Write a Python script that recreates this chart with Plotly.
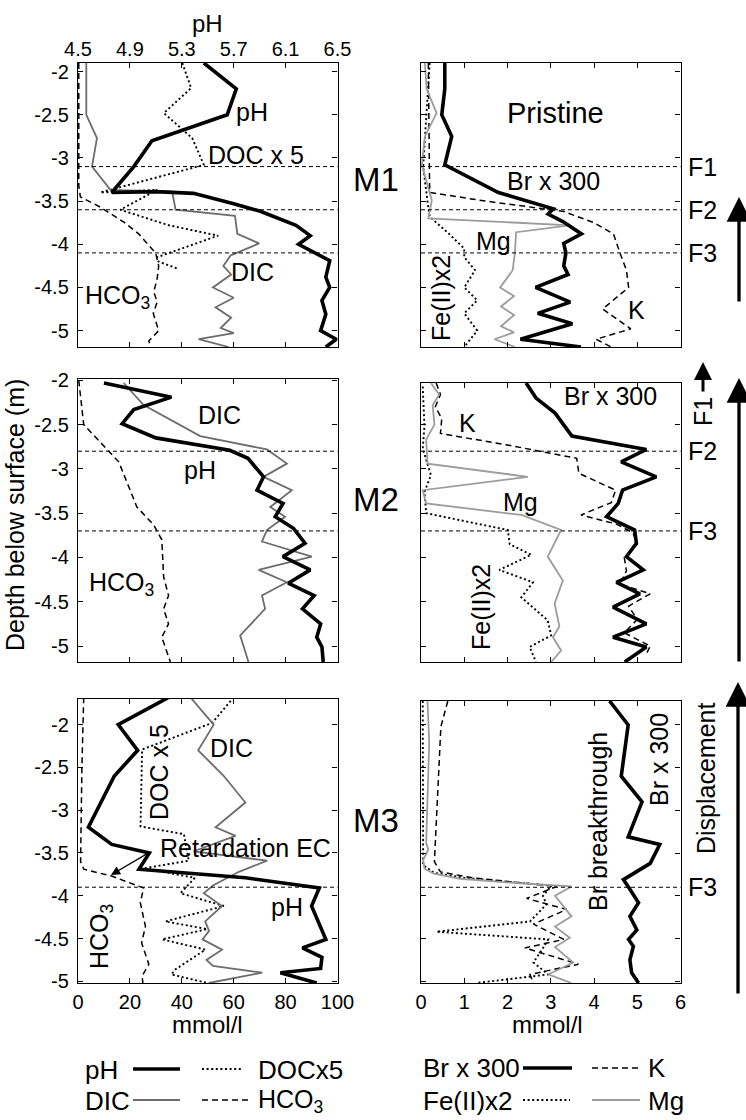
import plotly.graph_objects as go

W, H = 746, 1120
FONT = "Liberation Sans, Arial, Helvetica, sans-serif"

# ---------------- DATA ----------------
DEPTH_TICKS = [-2, -2.5, -3, -3.5, -4, -4.5, -5]
DEPTH_TICKTEXT = ["-2", "-2.5", "-3", "-3.5", "-4", "-4.5", "-5"]
MMOL_LEFT_TICKS = [0, 20, 40, 60, 80, 100]
MMOL_RIGHT_TICKS = [0, 1, 2, 3, 4, 5, 6]
PH_TICKS = [4.5, 4.9, 5.3, 5.7, 6.1, 6.5]

# M1 left
m1_ph_d = [-1.9, -2.2, -2.5, -2.8, -3.1, -3.4, -3.39, -3.41, -3.53, -3.62, -3.78, -3.9, -4.0, -4.19, -4.38, -4.5, -4.65, -4.81, -5.0, -5.1, -5.19]
m1_ph = [5.47, 5.72, 5.65, 5.07, 4.93, 4.76, 5.1, 5.39, 5.7, 5.91, 6.18, 6.29, 6.2, 6.44, 6.41, 6.44, 6.38, 6.41, 6.37, 6.49, 6.41]
m1_dic_d = [-1.9, -2.5, -2.77, -3.1, -3.37, -3.39, -3.6, -3.67, -3.88, -3.99, -4.13, -4.25, -4.35, -4.5, -4.62, -4.73, -4.85, -4.97, -5.03, -5.1, -5.19]
m1_dic = [3.2, 3.2, 7.3, 5.4, 12.5, 36.3, 37.6, 60.5, 61.4, 69.8, 58.8, 56, 59, 52, 60, 53, 59, 55, 60, 46.5, 58]
m1_hco3_d = [-1.9, -3.32, -3.45, -3.57, -3.75, -3.88, -4.1, -4.25, -4.4, -4.55, -4.67, -4.8, -5.0, -5.12, -5.19]
m1_hco3 = [0.3, 0.3, 0.9, 8.6, 18, 23.4, 29.9, 31.1, 30.5, 29.2, 30.5, 29, 31.1, 27.3, 28]
m1_doc_d = [-1.9, -2.19, -2.48, -2.77, -3.08, -3.4, -3.37, -3.6, -3.78, -3.9, -4.15, -4.2, -4.28]
m1_doc = [40.2, 43.6, 33.1, 44, 48.5, 8.6, 30.5, 16.3, 35, 54, 30.5, 31, 38.2]
# M1 right
m1_br_d = [-1.9, -2.2, -2.5, -2.75, -3.08, -3.4, -3.59, -3.65, -3.74, -3.88, -3.99, -4.1, -4.25, -4.35, -4.5, -4.67, -4.8, -4.92, -5.1, -5.19]
m1_br = [0.55, 0.55, 0.48, 0.71, 0.55, 1.79, 3.06, 2.94, 3.29, 3.71, 3.3, 3.35, 3.3, 3.4, 2.65, 3.45, 2.7, 3.5, 2.3, 3.7]
m1_mg_d = [-1.9, -2.2, -2.48, -2.75, -3.08, -3.49, -3.7, -3.78, -3.86, -4.1, -4.3, -4.5, -4.6, -4.72, -4.82, -4.95, -5.02, -5.1, -5.19]
m1_mg = [0.09, 0.13, 0.36, 0.09, 0.02, 0.25, 0.17, 3.44, 2.2, 2.17, 2.12, 1.83, 2.15, 1.85, 2.15, 1.85, 2.15, 1.7, 2.17]
m1_k_d = [-1.9, -3.4, -3.5, -3.62, -3.75, -3.88, -4.1, -4.3, -4.5, -4.75, -4.98, -5.1, -5.19]
m1_k = [0.17, 0.2, 1.5, 3.3, 4.0, 4.45, 4.6, 4.75, 4.8, 4.2, 4.85, 4.05, 4.4]
m1_fe_d = [-1.9, -2.75, -3.1, -3.5, -3.68, -3.88, -4.05, -4.15, -4.3, -4.5, -4.65, -4.8, -5.0, -5.19]
m1_fe = [0.2, 0.1, 0.05, 0.15, 0.2, 0.65, 1.0, 1.0, 1.25, 1.0, 1.3, 1.0, 1.3, 1.0]

# M2 left
m2_ph_d = [-2.03, -2.19, -2.33, -2.49, -2.65, -2.79, -2.88, -3.09, -3.24, -3.39, -3.54, -3.67, -3.84, -3.99, -4.14, -4.29, -4.43, -4.58, -4.75, -4.9, -5.01, -5.18]
m2_ph = [4.70, 5.22, 4.93, 4.84, 5.10, 5.67, 5.81, 5.93, 5.88, 6.08, 6.02, 6.16, 6.25, 6.08, 6.29, 6.12, 6.32, 6.23, 6.37, 6.34, 6.38, 6.39]
m2_dic_d = [-2.03, -2.28, -2.63, -2.78, -2.94, -3.09, -3.24, -3.43, -3.54, -3.69, -3.82, -3.99, -4.14, -4.28, -4.43, -4.58, -4.88, -5.18]
m2_dic = [17.6, 25.3, 47.1, 72.8, 80.5, 71.5, 82.4, 74.1, 79.8, 72.8, 70.9, 90.1, 69.6, 80.5, 70.9, 72.1, 62.5, 65.7]
m2_hco3_d = [-2.0, -2.5, -2.92, -3.43, -3.63, -3.8, -4.22, -4.43, -4.58, -4.75, -4.9, -5.18]
m2_hco3 = [0.3, 2.2, 15.7, 22.7, 29.1, 32.3, 33.0, 34.9, 33, 34.9, 32.3, 35.6]
# M2 right
m2_br_d = [-2.03, -2.2, -2.37, -2.63, -2.78, -2.92, -3.09, -3.24, -3.39, -3.54, -3.69, -3.84, -3.99, -4.14, -4.28, -4.41, -4.56, -4.75, -4.9, -5.01, -5.18]
m2_br = [2.43, 2.66, 3.1, 3.49, 5.21, 4.63, 5.44, 4.66, 4.56, 4.29, 4.94, 4.98, 4.75, 5.14, 4.52, 5.06, 4.44, 5.21, 4.44, 5.21, 4.71]
m2_k_d = [-2.03, -2.16, -2.3, -2.43, -2.6, -2.73, -2.88, -3.05, -3.24, -3.38, -3.52, -3.62, -3.72, -3.85, -4.0, -4.15, -4.3, -4.41, -4.55, -4.7, -4.85, -5.0, -5.1]
m2_k = [0.35, 0.45, 0.33, 0.48, 0.45, 2.0, 3.6, 3.65, 4.5, 4.4, 3.7, 4.5, 4.9, 5.0, 4.7, 4.75, 4.6, 5.3, 4.8, 5.0, 4.7, 5.3, 5.2]
m2_mg_d = [-2.03, -2.16, -2.28, -2.5, -2.67, -2.94, -3.09, -3.24, -3.39, -3.52, -3.69, -3.99, -4.26, -4.52, -4.78, -4.9, -5.05, -5.18]
m2_mg = [0.23, 0.42, 0.27, 0.31, 0.12, 0.15, 2.47, 0.04, 0.12, 2.32, 3.24, 2.93, 3.28, 3.09, 3.2, 3.05, 3.24, 3.01]
m2_fe_d = [-2.07, -2.52, -2.77, -3.07, -3.26, -3.5, -3.69, -3.85, -3.97, -4.14, -4.28, -4.45, -4.71, -4.88, -5.01, -5.18]
m2_fe = [0.04, 0.08, 0.04, 0.23, 0.08, 0.12, 2.01, 2.05, 2.55, 1.81, 2.59, 2.32, 2.93, 3.01, 2.51, 2.66]

# M3 left
m3_ph_d = [-1.68, -2.0, -2.3, -2.6, -3.2, -3.4, -3.5, -3.69, -3.79, -3.91, -4.12, -4.51, -4.61, -4.72, -4.85, -4.9, -5.02]
m3_ph = [5.20, 4.81, 4.96, 4.78, 4.58, 4.76, 5.05, 4.97, 5.79, 6.36, 6.30, 6.41, 6.23, 6.38, 6.37, 6.06, 6.34]
m3_dic_d = [-1.68, -2.0, -2.3, -2.6, -2.91, -3.2, -3.3, -3.48, -3.59, -3.72, -3.88, -3.97, -4.12, -4.3, -4.41, -4.51, -4.63, -4.75, -4.82, -4.9, -5.02]
m3_dic = [43.3, 52.3, 46.3, 56.2, 64.5, 53, 60.7, 44.6, 72.9, 62, 52, 48.5, 55.5, 49, 50.5, 48, 55.5, 49.5, 52, 71, 50.4]
m3_doc_d = [-1.68, -1.98, -2.29, -3.19, -3.28, -3.59, -3.68, -3.79, -3.97, -4.12, -4.3, -4.39, -4.51, -4.63, -4.86, -4.92, -5.02]
m3_doc = [60, 51.7, 24.7, 24.1, 40.8, 42.7, 25.3, 45, 39.5, 56.2, 33.7, 49.8, 32.4, 49.1, 37.6, 36, 49.8]
m3_hco3_d = [-1.68, -2.5, -3.6, -3.69, -3.77, -3.91, -4.08, -4.36, -4.55, -4.8, -4.94, -5.02]
m3_hco3 = [2.2, 1.5, 1.0, 2.2, 13, 25.3, 24, 26, 24.5, 27.3, 24.7, 25]
# M3 right
m3_br_d = [-1.72, -2.0, -2.6, -2.9, -3.31, -3.4, -3.62, -3.81, -3.9, -4.08, -4.24, -4.4, -4.51, -4.59, -4.75, -4.9, -5.02]
m3_br = [4.36, 4.79, 4.63, 5.11, 4.79, 5.52, 5.3, 4.68, 4.8, 5.03, 4.83, 4.99, 4.8, 4.91, 4.83, 4.87, 5.03]
m3_k_d = [-1.72, -2.02, -3.6, -3.72, -3.79, -3.84, -3.89, -4.03, -4.16, -4.33, -4.51, -4.61, -4.8, -4.92, -5.02]
m3_k = [0.62, 0.46, 0.31, 0.45, 1.2, 2.2, 3.14, 2.44, 3.37, 2.6, 3.3, 2.4, 3.64, 2.52, 2.6]
m3_mg_d = [-1.72, -2.2, -3.38, -3.46, -3.58, -3.68, -3.74, -3.8, -3.85, -3.89, -4.0, -4.24, -4.36, -4.49, -4.6, -4.78, -4.92, -5.02]
m3_mg = [0.15, 0.19, 0.12, 0.17, 0.05, 0.08, 0.3, 0.9, 2.2, 3.48, 3.1, 3.48, 3.1, 3.44, 3.1, 3.52, 2.94, 3.48]
m3_fe_d = [-1.72, -3.64, -3.73, -3.79, -3.84, -3.88, -4.0, -4.1, -4.3, -4.42, -4.51, -4.62, -4.78, -4.92, -5.02]
m3_fe = [0.04, 0.05, 0.3, 1.0, 2.1, 3.02, 2.82, 2.9, 2.52, 0.36, 2.94, 2.81, 2.6, 2.94, 1.28]

# horizontal front lines (depth, m)
F_LINES_M1 = [-3.1, -3.6, -4.1]
F_LINES_M2 = [-2.8, -3.7]
F_LINES_M3 = [-3.9]

# ---------------- FIGURE ----------------
def fx(p):
    return p / W


def fy(p):
    return 1 - p / H


THICK = dict(color="black", width=3.6)
DIC_STYLE = dict(color="#6c6c6c", width=1.8)
MG_STYLE = dict(color="#9c9c9c", width=1.8)
DOT = dict(color="black", width=1.9, dash="2px,2.6px")
DASH = dict(color="black", width=1.5, dash="6px,4px")

fig = go.Figure()


def add(x, y, xa, ya, style):
    fig.add_trace(go.Scatter(x=x, y=y, xaxis=xa, yaxis=ya, mode="lines",
                             line=style, showlegend=False, hoverinfo="skip"))


# M1
add(m1_hco3, m1_hco3_d, "x", "y", DASH)
add(m1_doc, m1_doc_d, "x", "y", DOT)
add(m1_dic, m1_dic_d, "x", "y", DIC_STYLE)
add(m1_ph, m1_ph_d, "x7", "y", THICK)
add(m1_fe, m1_fe_d, "x2", "y2", DOT)
add(m1_k, m1_k_d, "x2", "y2", DASH)
add(m1_mg, m1_mg_d, "x2", "y2", MG_STYLE)
add(m1_br, m1_br_d, "x2", "y2", THICK)
# M2
add(m2_hco3, m2_hco3_d, "x3", "y3", DASH)
add(m2_dic, m2_dic_d, "x3", "y3", DIC_STYLE)
add(m2_ph, m2_ph_d, "x8", "y3", THICK)
add(m2_fe, m2_fe_d, "x4", "y4", DOT)
add(m2_k, m2_k_d, "x4", "y4", DASH)
add(m2_mg, m2_mg_d, "x4", "y4", MG_STYLE)
add(m2_br, m2_br_d, "x4", "y4", THICK)
# M3
add(m3_hco3, m3_hco3_d, "x5", "y5", DASH)
add(m3_doc, m3_doc_d, "x5", "y5", DOT)
add(m3_dic, m3_dic_d, "x5", "y5", DIC_STYLE)
add(m3_ph, m3_ph_d, "x9", "y5", THICK)
add(m3_fe, m3_fe_d, "x6", "y6", DOT)
add(m3_k, m3_k_d, "x6", "y6", DASH)
add(m3_mg, m3_mg_d, "x6", "y6", MG_STYLE)
add(m3_br, m3_br_d, "x6", "y6", THICK)

TICKFONT = dict(family=FONT, size=20, color="black")
LEFT = [fx(78), fx(337.5)]
RIGHT = [fx(421), fx(680.5)]


def xax(domain, anchor, tickvals, rng, labels):
    return dict(domain=domain, anchor=anchor, range=rng, tickvals=tickvals,
                ticktext=[str(v) for v in tickvals], showticklabels=labels,
                ticks="inside", ticklen=5, tickwidth=1, tickcolor="black",
                showline=True, linecolor="black", linewidth=1.4, mirror="ticks",
                showgrid=False, zeroline=False, tickfont=TICKFONT,
                ticklabelstandoff=1)


def yax(domain, anchor, rng, labels):
    return dict(domain=domain, anchor=anchor, range=rng, tickvals=DEPTH_TICKS,
                ticktext=DEPTH_TICKTEXT, showticklabels=labels,
                ticks="inside", ticklen=5, tickwidth=1, tickcolor="black",
                showline=True, linecolor="black", linewidth=1.4, mirror="ticks",
                showgrid=False, zeroline=False, tickfont=TICKFONT,
                ticklabelstandoff=4)


R1 = [fy(347), fy(63)]
R2L, R2R = [fy(662), fy(379)], [fy(662), fy(383)]
R3L, R3R = [fy(983), fy(699)], [fy(983), fy(701)]

fig.update_layout(
    width=W, height=H, margin=dict(l=0, r=0, t=0, b=0, autoexpand=False),
    paper_bgcolor="white", plot_bgcolor="white", showlegend=False,
    font=dict(family=FONT, color="black"),
    xaxis=xax(LEFT, "y", MMOL_LEFT_TICKS, [0, 100], False),
    yaxis=yax(R1, "x", [-5.19, -1.9], True),
    xaxis2=xax(RIGHT, "y2", MMOL_RIGHT_TICKS, [0, 6], False),
    yaxis2=yax(R1, "x2", [-5.19, -1.9], False),
    xaxis3=xax(LEFT, "y3", MMOL_LEFT_TICKS, [0, 100], False),
    yaxis3=yax(R2L, "x3", [-5.18, -1.985], True),
    xaxis4=xax(RIGHT, "y4", MMOL_RIGHT_TICKS, [0, 6], False),
    yaxis4=yax(R2R, "x4", [-5.18, -2.03], False),
    xaxis5=xax(LEFT, "y5", MMOL_LEFT_TICKS, [0, 100], True),
    yaxis5=yax(R3L, "x5", [-5.02, -1.70], True),
    xaxis6=xax(RIGHT, "y6", MMOL_RIGHT_TICKS, [0, 6], True),
    yaxis6=yax(R3R, "x6", [-5.02, -1.72], False),
    xaxis7=dict(overlaying="x", anchor="y", side="top", range=[4.5, 6.5],
                tickvals=PH_TICKS, ticktext=[f"{v:.1f}" for v in PH_TICKS],
                ticks="inside", ticklen=5, tickcolor="black", showline=False,
                showgrid=False, zeroline=False, tickfont=TICKFONT,
                ticklabelstandoff=2),
    xaxis8=dict(overlaying="x3", anchor="y3", range=[4.5, 6.5], visible=False),
    xaxis9=dict(overlaying="x5", anchor="y5", range=[4.5, 6.5], visible=False),
)

# front lines
shapes = []
for xr, yr, lines in [("x", "y", F_LINES_M1), ("x2", "y2", F_LINES_M1),
                      ("x3", "y3", F_LINES_M2), ("x4", "y4", F_LINES_M2),
                      ("x5", "y5", F_LINES_M3), ("x6", "y6", F_LINES_M3)]:
    for d in lines:
        shapes.append(dict(type="line", xref=f"{xr} domain", yref=yr, x0=0, x1=1,
                           y0=d, y1=d, line=dict(color="black", width=1, dash="4px,3px")))

# legend samples (paper coords)
def lseg(x0, x1, y, style):
    ln = dict(color=style["color"], width=style["width"])
    if "dash" in style:
        ln["dash"] = style["dash"]
    shapes.append(dict(type="line", xref="paper", yref="paper", x0=fx(x0), x1=fx(x1),
                       y0=fy(y), y1=fy(y), line=ln))


lseg(133, 180, 1069, THICK)
lseg(202, 243, 1069, DOT)
lseg(133, 180, 1100, DIC_STYLE)
lseg(202, 248, 1100, DASH)
lseg(523, 572, 1068, THICK)
lseg(592, 638, 1068, DASH)
lseg(523, 570, 1100, DOT)
lseg(592, 640, 1100, MG_STYLE)
fig.update_layout(shapes=shapes)

ann = []


def txt(t, x, y, size=25, angle=0, xanchor="center"):
    ann.append(dict(text=t, x=fx(x), y=fy(y), xref="paper", yref="paper",
                    showarrow=False, textangle=angle, xanchor=xanchor, yanchor="middle",
                    font=dict(family=FONT, size=size, color="black")))


def ftxt(t, yref, d, x=702, size=25):
    ann.append(dict(text=t, x=fx(x), y=d, xref="paper", yref=yref, showarrow=False,
                    xanchor="center", yanchor="middle",
                    font=dict(family=FONT, size=size, color="black")))


def arrow(tx, ty, sx, sy, width=3.3, size=1.5, head=2):
    ann.append(dict(text="", x=fx(tx), y=fy(ty), xref="paper", yref="paper",
                    ax=sx - tx, ay=sy - ty, axref="pixel", ayref="pixel",
                    showarrow=True, arrowhead=head, arrowsize=size, arrowwidth=width,
                    arrowcolor="black", standoff=0, startstandoff=0))


# axis titles
txt("pH", 207, 23, 24)
txt("mmol/l", 207, 1024, 24)
txt("mmol/l", 547, 1024, 24)
txt("Depth below surface (m)", 15, 515, 25, angle=-90)
# M labels
txt("M1", 376, 179, 33)
txt("M2", 376, 500, 33)
txt("M3", 376, 820, 33)
# M1 labels
txt("pH", 252, 112)
txt("DOC x 5", 256, 155)
txt("DIC", 252, 272)
txt("HCO<sub>3</sub>", 117, 297)
txt("Pristine", 555, 113, 29)
txt("Br x 300", 553, 181)
txt("Mg", 493, 241)
txt("Fe(II)x2", 441, 298, angle=-90)
txt("K", 636, 310)
ftxt("F1", "y2", -3.1)
ftxt("F2", "y2", -3.6)
ftxt("F3", "y2", -4.1)
# M2 labels
txt("DIC", 220, 415)
txt("pH", 200, 470)
txt("HCO<sub>3</sub>", 121, 584)
txt("Br x 300", 610, 396)
txt("K", 467, 423)
txt("Mg", 520, 502)
txt("Fe(II)x2", 481, 607, angle=-90)
txt("F1", 703, 412, angle=-90)
ftxt("F2", "y4", -2.8)
ftxt("F3", "y4", -3.7)
# M3 labels
txt("DIC", 231, 748)
txt("DOC x 5", 159, 772, angle=-90)
txt("Retardation EC", 245, 848)
txt("pH", 287, 907)
txt("HCO<sub>3</sub>", 101, 937, angle=-90)
txt("Br breakthrough", 598, 822, angle=-90)
txt("Br x 300", 659, 760, angle=-90)
txt("Displacement", 706, 778, angle=-90)
ftxt("F3", "y6", -3.9)
# arrows
arrow(739, 197, 739, 303)
arrow(703, 362, 703, 393, width=3, size=1.2)
arrow(739, 378, 739, 663)
arrow(738, 682, 738, 995)
arrow(111, 875, 150, 852, width=1.3, size=1.4)
# legend text
txt("pH", 83, 1070, 26, xanchor="left")
txt("DOCx5", 256, 1070, 26, xanchor="left")
txt("DIC", 83, 1101, 26, xanchor="left")
txt("HCO<sub>3</sub>", 256, 1101, 25, xanchor="left")
txt("Br x 300", 421, 1068, 26, xanchor="left")
txt("K", 646, 1068, 26, xanchor="left")
txt("Fe(II)x2", 421, 1101, 26, xanchor="left")
txt("Mg", 646, 1101, 26, xanchor="left")
fig.update_layout(annotations=ann)

fig.write_html("out.html", config={"displayModeBar": False},
               post_script="document.body.style.margin='0px';document.documentElement.style.overflow='hidden';document.body.style.overflow='hidden';")
